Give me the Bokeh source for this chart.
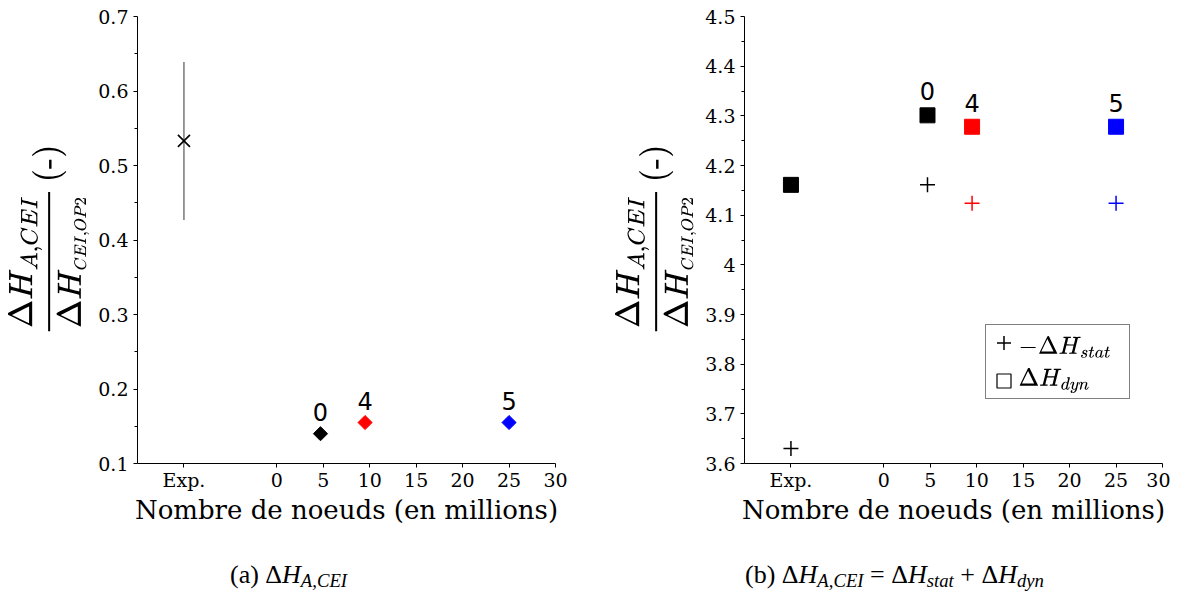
from bokeh.plotting import figure
from bokeh.models import (FixedTicker, CustomJSTickFormatter, Whisker, Label,
                          ColumnDataSource, Legend, LegendItem, Div, Range1d)
from bokeh.layouts import column, row
from bokeh.core.properties import value
from bokeh.embed import file_html
from bokeh.resources import INLINE
import math

# ---------------- data ----------------
x_tick_values = [-10, 0, 5, 10, 15, 20, 25, 30]
x_tick_labels = ["Exp.", "0", "5", "10", "15", "20", "25", "30"]
y_ticks_a = [0.1, 0.2, 0.3, 0.4, 0.5, 0.6, 0.7]
y_ticks_b = [3.6, 3.7, 3.8, 3.9, 4.0, 4.1, 4.2, 4.3, 4.4, 4.5]

exp_pos = [-10]
exp_ratio_a = [0.533]
exp_low_a = [0.427]
exp_high_a = [0.639]

sim_nodes = [4.7, 9.5, 25.0]          # millions of nodes
sim_labels = ["0", "4", "5"]
ratio_a = [0.140, 0.155, 0.155]

exp_stat_b = [3.630]
exp_dyn_b = [4.161]
stat_b = [4.161, 4.124, 4.124]
dyn_b = [4.301, 4.278, 4.278]

legend_labels = [r"$$-\Delta H_{stat}$$", r"$$\Delta H_{dyn}$$"]

# ---------------- styles ----------------
sim_colors = ["black", "red", "blue"]
SERIF = "DejaVu Serif"
SANS = "DejaVu Sans"

ylabel = (r"$$\frac{\Delta H_{A,CEI}}{\Delta H_{\scriptscriptstyle CEI,OP2}}"
          r"\,\text{(-)}$$")
xlabel = "Nombre de noeuds (en millions)"

fmt = CustomJSTickFormatter(code="""
const r = Math.round(tick*10)/10;
return Number.isInteger(r) ? r.toFixed(0) : r.toFixed(1);
""")


def minors(t):
    return [(a + b) / 2 for a, b in zip(t[:-1], t[1:])]


def make_fig(y0, y1, yticks, mbl, mbr):
    p = figure(frame_width=418, frame_height=447, x_range=Range1d(-15, 30),
               y_range=Range1d(y0, y1), output_backend="svg", toolbar_location=None,
               min_border_left=mbl, min_border_right=mbr, min_border_top=16,
               min_border_bottom=60, outline_line_color=None)
    p.grid.visible = False
    xa = p.xaxis[0]
    xa.ticker = FixedTicker(ticks=x_tick_values, minor_ticks=[])
    xa.major_label_overrides = dict(zip(x_tick_values, x_tick_labels))
    xa.axis_label = xlabel
    xa.axis_label_text_font = SERIF
    xa.axis_label_text_font_size = "26px"
    xa.axis_label_text_font_style = "normal"
    xa.axis_label_standoff = 1
    xa.major_label_text_font = SERIF
    xa.major_label_text_font_size = "19px"
    xa.major_label_standoff = 1
    xa.major_tick_in = 0
    xa.major_tick_out = 4
    ya = p.yaxis[0]
    ya.ticker = FixedTicker(ticks=yticks, minor_ticks=minors(yticks))
    ya.formatter = fmt
    ya.axis_label = ylabel
    ya.axis_label_text_font_size = "27px"
    ya.axis_label_standoff = 6
    ya.major_label_text_font = SERIF
    ya.major_label_text_font_size = "19px"
    ya.major_label_standoff = 5
    ya.major_tick_in = 0
    ya.major_tick_out = 4
    ya.minor_tick_in = 0
    ya.minor_tick_out = 3
    for a in (xa, ya):
        a.axis_line_color = "black"
        a.major_tick_line_color = "black"
        a.minor_tick_line_color = "black"
        a.major_label_text_color = "black"
        a.axis_label_text_color = "black"
    return p


# ---------------- (a) ----------------
p1 = make_fig(0.1, 0.7, y_ticks_a, 137, 33)
src_exp_a = ColumnDataSource(dict(x=exp_pos, y=exp_ratio_a, lo=exp_low_a, hi=exp_high_a))
p1.add_layout(Whisker(source=src_exp_a, base="x", upper="hi", lower="lo", dimension="height",
                      line_color="#555555", line_width=1.2, upper_head=None, lower_head=None))
p1.scatter("x", "y", source=src_exp_a, marker="x", size=17, line_color="black", line_width=1.6)
src_a = ColumnDataSource(dict(x=sim_nodes, y=ratio_a, c=sim_colors, t=sim_labels))
p1.scatter("x", "y", source=src_a, marker="square", angle=math.pi / 4, size=10,
           fill_color="c", line_color="c")
p1.text("x", "y", text="t", source=src_a, y_offset=-22, text_align="center",
        text_baseline="alphabetic", text_font=value(SANS), text_font_size="24px",
        text_color="black")

# ---------------- (b) ----------------
p2 = make_fig(3.6, 4.5, y_ticks_b, 156, 8)
src_exp_b = ColumnDataSource(dict(x=exp_pos, s=exp_stat_b, d=exp_dyn_b))
p2.scatter("x", "d", source=src_exp_b, marker="square", size=15, fill_color="black",
           line_color="black")
r_stat = p2.scatter("x", "s", source=src_exp_b, marker="cross", size=15, line_color="black",
                    line_width=1.5)
src_b = ColumnDataSource(dict(x=sim_nodes, s=stat_b, d=dyn_b, c=sim_colors, t=sim_labels))
p2.scatter("x", "d", source=src_b, marker="square", size=15, fill_color="c", line_color="c")
p2.scatter("x", "s", source=src_b, marker="cross", size=15, line_color="c", line_width=1.5)
p2.text("x", "d", text="t", source=src_b, y_offset=-24, text_align="center",
        text_baseline="alphabetic", text_font=value(SANS), text_font_size="24px",
        text_color="black")

# legend-only glyph (hollow square), not drawn in the plot
r_dyn_leg = p2.scatter("x", "d", source=src_exp_b, marker="square", size=13, fill_color=None,
                       line_color="black", line_width=1.2, visible=False)
legend = Legend(items=[LegendItem(label=" ", renderers=[r_stat]),
                       LegendItem(label=" ", renderers=[r_dyn_leg])],
                location=(241, 64), border_line_color="black", border_line_width=1,
                label_text_font_size="20px", label_width=108, label_standoff=0,
                glyph_width=35, glyph_height=35, spacing=3, padding=0, margin=0,
                background_fill_alpha=0, inactive_fill_alpha=0)
p2.add_layout(legend)
for lab, ypos in zip(legend_labels, [116, 83]):
    p2.add_layout(Label(x=274, y=ypos, x_units="screen", y_units="screen", text=lab,
                        text_font_size="21px", text_baseline="middle", text_align="left",
                        text_color="black", level="overlay"))

# ---------------- captions ----------------
SUB = '<sub style="font-size:72%;vertical-align:-0.22em;line-height:0">'


def dh(sub):
    return "&Delta;<i>H</i>" + SUB + "<i>" + sub + "</i></sub>"


cap_style = {"font-family": "'Liberation Serif', serif", "font-size": "26px", "color": "black",
             "white-space": "nowrap", "line-height": "26px"}
d1 = Div(text="(a) " + dh("A,CEI"), width=300, height=26,
         margin=(35, 0, 0, 230), styles=cap_style)
d2 = Div(text="(b) " + dh("A,CEI") + " = " + dh("stat") + " + " + dh("dyn"),
         width=400, height=26, margin=(35, 0, 0, 215), styles=cap_style)

layout = column(row(p1, p2), row(d1, d2))
open("out.html", "w").write(file_html(layout, INLINE))
